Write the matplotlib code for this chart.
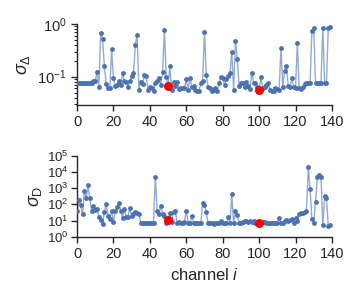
import numpy as np
import matplotlib
matplotlib.use("Agg")
import matplotlib.pyplot as plt

plt.rcParams['font.family'] = ['Liberation Sans', 'DejaVu Sans']
plt.rcParams['mathtext.fontset'] = 'custom'
plt.rcParams['mathtext.rm'] = 'Liberation Sans'
plt.rcParams['mathtext.it'] = 'Liberation Sans:italic'
plt.rcParams['font.size'] = 10

# sigma_Delta per channel (top panel)
sigma_delta = [
    0.075, 0.075, 0.075, 0.075, 0.075, 0.075, 0.075, 0.075, 0.075, 0.084,
    0.084, 0.122, 0.065, 0.68, 0.53, 0.16, 0.072, 0.06, 0.06, 0.33,
    0.093, 0.068, 0.07, 0.084, 0.07, 0.119, 0.083, 0.08, 0.065, 0.082,
    0.103, 0.115, 0.40, 0.63, 0.057, 0.08, 0.073, 0.106, 0.103, 0.056,
    0.063, 0.062, 0.054, 0.077, 0.083, 0.096, 0.069, 0.125, 0.77, 0.097,
    0.067, 0.157, 0.056, 0.08, 0.067, 0.078, 0.059, 0.061, 0.06, 0.06,
    0.09, 0.056, 0.096, 0.063, 0.067, 0.056, 0.054, 0.054, 0.077, 0.083,
    0.71, 0.107, 0.063, 0.061, 0.054, 0.056, 0.06, 0.054, 0.077, 0.097,
    0.094, 0.07, 0.092, 0.103, 0.115, 0.30, 0.056, 0.47, 0.22, 0.067,
    0.077, 0.077, 0.063, 0.08, 0.066, 0.058, 0.119, 0.077, 0.077, 0.063,
    0.056, 0.097, 0.061, 0.063, 0.069, 0.075, 0.056, 0.054, 0.054, 0.061,
    0.058, 0.056, 0.345, 0.065, 0.13, 0.16, 0.067, 0.063, 0.094, 0.063,
    0.061, 0.44, 0.06, 0.058, 0.063, 0.073, 0.077, 0.075, 0.075, 0.75,
    0.84, 0.077, 0.075, 0.075, 0.075, 0.85, 0.075, 0.075, 0.85, 0.88,
]

# sigma_D per channel (bottom panel)
sigma_d = [
    38, 180, 86, 24, 660, 245, 1550, 232, 38, 78,
    44, 53, 17, 11, 6, 32, 110, 19, 13, 40,
    7.7, 38, 65, 125, 40, 15, 51, 16, 17, 62,
    19, 25, 35, 28, 25, 7.3, 7, 7.2, 6.8, 7,
    7.1, 6.9, 7, 5000, 40, 25, 82, 25, 19, 6.6,
    10.7, 30, 7.7, 35, 40, 7.3, 8.4, 7.3, 7.3, 8.4,
    40, 7.3, 6.6, 19, 6.6, 7, 6.6, 6.6, 7, 125,
    90, 32, 6.6, 7, 6.6, 6, 6.6, 6.6, 7, 8.8,
    7, 6.6, 6.6, 16, 6.6, 410, 6.6, 40, 21, 7,
    7, 8, 8.8, 8.8, 8, 8.8, 8, 8.8, 7, 7,
    6.6, 8.4, 8, 8, 7, 7, 6.8, 6.6, 7, 6.6,
    6.8, 14, 6.6, 7, 8.8, 10.7, 8.8, 10.7, 12, 7,
    13.5, 10, 25, 28, 30, 33, 38, 21000, 920, 12,
    6.6, 138, 4600, 6100, 5000, 5, 340, 245, 4.6, 5,
]

highlight = [50, 100]

channels = np.arange(len(sigma_delta))
sigma_delta = np.array(sigma_delta)
sigma_d = np.array(sigma_d)

blue = '#4C72B0'
dark = '#262626'

fig = plt.figure(figsize=(3.6, 3.0), dpi=100)
ax1 = fig.add_axes([0.214, 0.65, 0.708, 0.27])
ax2 = fig.add_axes([0.214, 0.211, 0.708, 0.27])

for ax, vals in [(ax1, sigma_delta), (ax2, sigma_d)]:
    ax.plot(channels, vals, '-', color=blue, lw=1, alpha=0.6, zorder=2)
    ax.plot(channels, vals, 'o', color=blue, ms=3.5, mew=0, zorder=3)
    ax.plot(channels[highlight], vals[highlight], 'o', color='red', ms=6.5, mew=0, zorder=4)
    ax.set_yscale('log')
    ax.set_xlim(0, 140)
    ax.set_xticks(np.arange(0, 141, 20))
    for s in ['top', 'right']:
        ax.spines[s].set_visible(False)
    for s in ['left', 'bottom']:
        ax.spines[s].set_color(dark)
        ax.spines[s].set_linewidth(1)
    ax.tick_params(which='major', direction='out', length=4, width=1, color=dark,
                   labelcolor=dark, labelsize=10.5)
    ax.tick_params(which='minor', direction='out', length=2, width=0.8, color=dark)
    ax.tick_params(axis='x', which='minor', bottom=False)

ax1.set_ylim(0.029, 1)
ax1.set_ylabel(r'$\sigma_\Delta$', fontsize=13, color=dark)

ax2.set_ylim(1, 1e5)
ax2.set_yticks([1, 10, 100, 1e3, 1e4, 1e5])
ax2.tick_params(axis='y', which='major', labelsize=9.5, pad=2)
ax2.set_ylabel(r'$\sigma_\mathrm{D}$', fontsize=13, color=dark, labelpad=2)
ax2.set_xlabel(r'channel $i$', fontsize=12, color=dark)

fig.savefig('out.png', dpi=100)
